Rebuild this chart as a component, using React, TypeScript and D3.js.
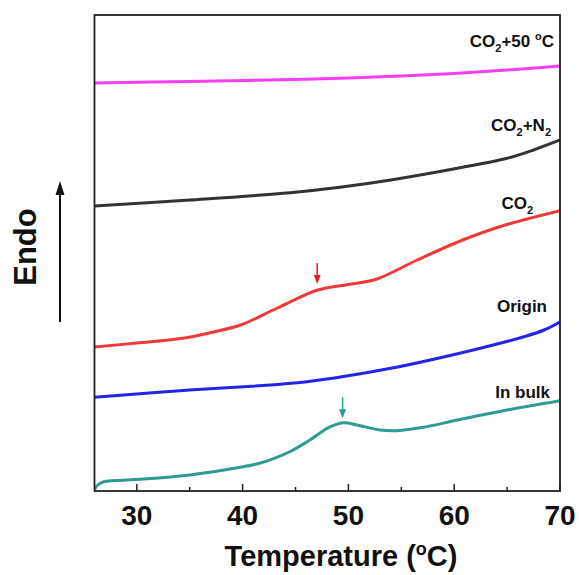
import React, { useEffect, useRef } from "react";
import * as d3 from "d3";

// temperature (°C) / heat flow (a.u.)
const bulkT = [26, 26.3, 26.8, 28, 30.3, 35, 39.8, 41.5, 43, 44.6, 46.1, 48.3, 49.6, 50.8, 53, 54.6, 57.1, 60.3, 65, 70];
const bulkV = [0.15, 0.6, 0.9, 1.05, 1.17, 1.6, 2.37, 2.75, 3.27, 4.0, 4.93, 6.43, 6.83, 6.6, 6.1, 6.03, 6.37, 7.1, 8.1, 9.03];

const originT = [26, 35, 46.1, 54, 61.8, 66.6, 68.5, 70];
const originV = [9.37, 10.1, 10.93, 12.27, 14.1, 15.43, 16.1, 16.9];

const co2T = [26, 30, 34.5, 37, 39.8, 43.3, 47.1, 50.3, 52.7, 56.5, 60.8, 64.3, 70];
const co2V = [14.4, 14.8, 15.3, 15.85, 16.6, 18.3, 20.1, 20.7, 21.2, 23.1, 25.1, 26.43, 28.03];

const co2n2T = [26, 35, 44.5, 49.2, 54, 60.3, 65, 67.5, 70];
const co2n2V = [28.5, 29.1, 29.83, 30.37, 31.1, 32.27, 33.27, 34.1, 35.1];

const co250T = [26, 35, 45, 50, 55, 60, 65, 70];
const co250V = [40.8, 40.95, 41.15, 41.3, 41.5, 41.75, 42.1, 42.5];

const majorTicks = [30, 40, 50, 60, 70];
const minorTicks = [35, 45, 55, 65];

// transition arrows: temperature, tip value, tail value
const arrowT = [47.05, 49.45];
const arrowTip = [20.7, 7.27];
const arrowTail = [22.8, 9.37];

const series = [
  { t: bulkT, v: bulkV, color: "#2e9b94" },
  { t: originT, v: originV, color: "#2424e8" },
  { t: co2T, v: co2V, color: "#f03a3a" },
  { t: co2n2T, v: co2n2V, color: "#333333" },
  { t: co250T, v: co250V, color: "#f23ff2" },
];
const arrowColors = ["#f01c1c", "#2e9b94"];

const labels = [
  { main: "CO", sub: "2", rest: "+50 °C", x: 554, y: 47 },
  { main: "CO", sub: "2", rest: "+N", sub2: "2", x: 551, y: 131 },
  { main: "CO", sub: "2", rest: "", x: 533, y: 209 },
  { main: "Origin", x: 547, y: 312 },
  { main: "In bulk", x: 550, y: 398 },
];

const W = 579;
const H = 575;
const margin = { top: 15, right: 19, bottom: 84, left: 94.5 };
const font = "Arial, 'Liberation Sans', sans-serif";

const App = () => {
  const svgRef = useRef<SVGSVGElement>(null);

  useEffect(() => {
    const svg = d3.select(svgRef.current);
    svg.selectAll("*").remove();

    const x = d3.scaleLinear().domain([26, 70]).range([margin.left, W - margin.right]);
    const y = d3.scaleLinear().domain([0, 47.6]).range([H - margin.bottom, margin.top]);
    const bottom = H - margin.bottom;

    const line = d3
      .line<[number, number]>()
      .x((d) => x(d[0]))
      .y((d) => y(d[1]))
      .curve(d3.curveCatmullRom.alpha(0.5));

    const clip = svg.append("clipPath").attr("id", "plotclip");
    clip
      .append("rect")
      .attr("x", margin.left)
      .attr("y", margin.top)
      .attr("width", x(70) - x(26))
      .attr("height", bottom - margin.top);

    const g = svg.append("g").attr("clip-path", "url(#plotclip)");
    series.forEach((s) => {
      const pts = s.t.map((t, i) => [t, s.v[i]] as [number, number]);
      g.append("path")
        .attr("d", line(pts))
        .attr("fill", "none")
        .attr("stroke", s.color)
        .attr("stroke-width", 3)
        .attr("stroke-linecap", "round");
    });

    // frame
    svg
      .append("rect")
      .attr("x", x(26))
      .attr("y", margin.top)
      .attr("width", x(70) - x(26))
      .attr("height", bottom - margin.top)
      .attr("fill", "none")
      .attr("stroke", "#222")
      .attr("stroke-width", 1.8);

    majorTicks.forEach((t) => {
      svg
        .append("line")
        .attr("x1", x(t))
        .attr("x2", x(t))
        .attr("y1", bottom)
        .attr("y2", bottom - 7)
        .attr("stroke", "#222")
        .attr("stroke-width", 1.5);
      svg
        .append("text")
        .attr("x", x(t))
        .attr("y", bottom + 34)
        .attr("text-anchor", "middle")
        .attr("font-family", font)
        .attr("font-weight", "bold")
        .attr("font-size", 28)
        .attr("fill", "#111")
        .text(t);
    });
    minorTicks.forEach((t) => {
      svg
        .append("line")
        .attr("x1", x(t))
        .attr("x2", x(t))
        .attr("y1", bottom)
        .attr("y2", bottom - 4)
        .attr("stroke", "#222")
        .attr("stroke-width", 1.5);
    });

    // x title
    const title = svg
      .append("text")
      .attr("x", 341)
      .attr("y", 566)
      .attr("text-anchor", "middle")
      .attr("font-family", font)
      .attr("font-weight", "bold")
      .attr("font-size", 29)
      .attr("fill", "#111");
    title.append("tspan").text("Temperature (");
    title.append("tspan").attr("dy", -11).attr("font-size", 18).text("o");
    title.append("tspan").attr("dy", 11).text("C)");

    // Endo label + arrow
    svg
      .append("text")
      .attr("transform", "translate(36,247) rotate(-90)")
      .attr("text-anchor", "middle")
      .attr("font-family", font)
      .attr("font-weight", "bold")
      .attr("font-size", 31)
      .attr("fill", "#111")
      .text("Endo");
    svg
      .append("line")
      .attr("x1", 60)
      .attr("x2", 60)
      .attr("y1", 322)
      .attr("y2", 192)
      .attr("stroke", "#111")
      .attr("stroke-width", 2);
    svg
      .append("path")
      .attr("d", "M60,181 L55.5,195 L64.5,195 Z")
      .attr("fill", "#111");

    // transition arrows
    arrowT.forEach((t, i) => {
      const ax = x(t);
      const tip = y(arrowTip[i]);
      const tail = y(arrowTail[i]);
      svg
        .append("line")
        .attr("x1", ax)
        .attr("x2", ax)
        .attr("y1", tail)
        .attr("y2", tip - 6)
        .attr("stroke", arrowColors[i])
        .attr("stroke-width", 1.5);
      svg
        .append("path")
        .attr("d", `M${ax},${tip} L${ax - 3.5},${tip - 9} L${ax + 3.5},${tip - 9} Z`)
        .attr("fill", arrowColors[i]);
    });

    // series labels
    labels.forEach((l) => {
      const t = svg
        .append("text")
        .attr("x", l.x)
        .attr("y", l.y)
        .attr("text-anchor", "end")
        .attr("font-family", font)
        .attr("font-weight", "bold")
        .attr("font-size", 17)
        .attr("fill", "#111");
      t.append("tspan").text(l.main);
      if (l.sub) {
        t.append("tspan").attr("dy", 5).attr("font-size", 11).text(l.sub);
        if (l.rest) {
          const r = l.rest;
          if (r.includes("°C")) {
            t.append("tspan").attr("dy", -5).text("+50 ");
            t.append("tspan").attr("dy", -7).attr("font-size", 11).text("o");
            t.append("tspan").attr("dy", 7).text("C");
          } else {
            t.append("tspan").attr("dy", -5).text(r);
          }
        }
        if (l.sub2) {
          t.append("tspan").attr("dy", 5).attr("font-size", 11).text(l.sub2);
        }
      }
    });
  }, []);

  return (
    <svg
      ref={svgRef}
      width={W}
      height={H}
      style={{ position: "absolute", left: 0, top: 0, background: "#fff" }}
    ></svg>
  );
};

export default App;
